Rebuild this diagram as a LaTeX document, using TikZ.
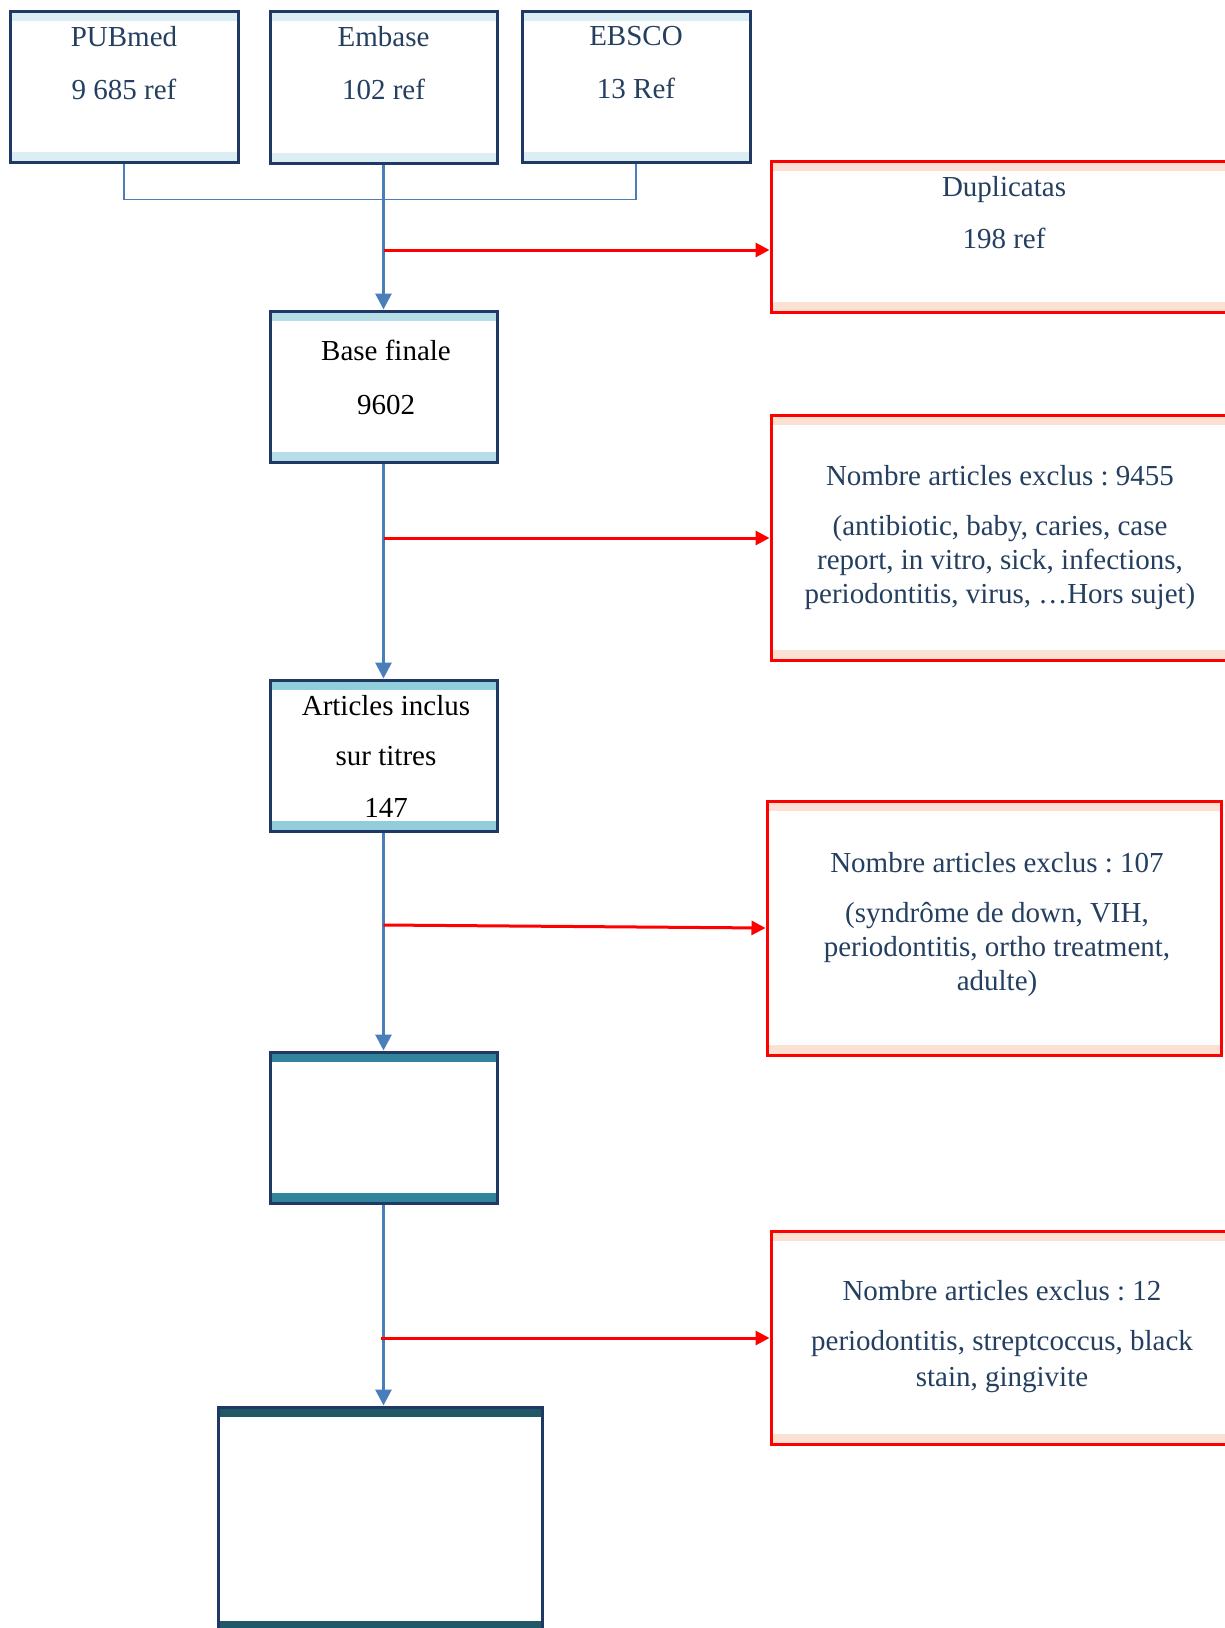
\documentclass[tikz,border=0pt]{standalone}
\usepackage{fontspec}
\setmainfont{Liberation Serif}
\usetikzlibrary{arrows.meta}
\definecolor{navy}{HTML}{1F3864}
\definecolor{navytext}{HTML}{243F60}
\definecolor{bandA}{HTML}{DAEEF3}
\definecolor{bandB}{HTML}{B7DDE8}
\definecolor{bandC}{HTML}{92CDDC}
\definecolor{bandD}{HTML}{31849B}
\definecolor{bandE}{HTML}{215868}
\definecolor{bandR}{HTML}{FBE0D4}
\definecolor{linkblue}{HTML}{4A7EBB}
\tikzset{
  bands/.style={path picture={
    \fill[#1] (path picture bounding box.north west) rectangle ([yshift=-10pt]path picture bounding box.north east);
    \fill[#1] (path picture bounding box.south west) rectangle ([yshift=10pt]path picture bounding box.south east);}},
  bluebox/.style={draw=navy, line width=3pt, rectangle, inner sep=0pt, fill=white},
  redbox/.style={draw=red, line width=3pt, rectangle, inner sep=0pt, fill=white, bands=bandR},
  txt/.style={inner sep=0pt, align=center, font=\fontsize{29}{34}\selectfont},
  bluearrow/.style={draw=linkblue, line width=3pt, -{Triangle[width=16pt,length=16pt]}},
  redarrow/.style={draw=red, line width=3pt, -{Triangle[width=14pt,length=14pt]}},
  thinblue/.style={draw=linkblue, line width=1.8pt},
}
\frenchspacing
\begin{document}
\begin{tikzpicture}[x=1pt,y=-1pt]
\useasboundingbox (0,0) rectangle (1224,1628);
% source boxes
\node[bluebox, bands=bandA, minimum width=228pt, minimum height=151pt] (pub) at (124,86.5) {};
\node[bluebox, bands=bandA, minimum width=227pt, minimum height=152pt] (emb) at (383.5,87) {};
\node[bluebox, bands=bandA, minimum width=228pt, minimum height=151pt] (ebs) at (636,86.5) {};
\node[txt, text=navytext] (pubT) at (124,63) {PUBmed\\[19pt]9 685 ref};
\node[txt, text=navytext] (embT) at (383.5,63) {Embase\\[19pt]102 ref};
\node[txt, text=navytext] (ebsT) at (636,63) {EBSCO\\[19pt]13 Ref};
% main column
\node[bluebox, bands=bandB, minimum width=227pt, minimum height=151pt] (base) at (383.5,386.5) {};
\node[txt, text=black] (baseT) at (386,377) {Base finale\\[20pt]9602};
\node[bluebox, bands=bandC, minimum width=227pt, minimum height=151pt] (art) at (383.5,755.5) {};
\node[txt, text=black] (artT) at (386,756) {Articles inclus\\[16pt]sur titres\\[18pt]147};
\node[bluebox, bands=bandD, minimum width=227pt, minimum height=151pt] (emp) at (383.5,1127.5) {};
\node[bluebox, bands=bandE, minimum width=324pt, minimum height=224pt] (fin) at (380,1519) {};
% red boxes
\node[redbox, minimum width=459pt, minimum height=151pt] (dup) at (1000.5,236.5) {};
\node[txt, text=navytext] (dupT) at (1004,213) {Duplicatas\\[18pt]198 ref};
\node[redbox, minimum width=459pt, minimum height=245pt] (ex1) at (1000.5,537.5) {};
\node[txt, text=navytext] (ex1T) at (1000,537.5) {Nombre articles exclus : 9455\\[16pt](antibiotic, baby, caries, case\\report, in vitro, sick, infections,\\periodontitis, virus, \dots Hors sujet)};
\node[redbox, minimum width=454pt, minimum height=254pt] (ex2) at (994,928) {};
\node[txt, text=navytext] (ex2T) at (997,925) {Nombre articles exclus : 107\\[16pt](syndrôme de down, VIH,\\periodontitis, ortho treatment,\\adulte)};
\node[redbox, minimum width=459pt, minimum height=213pt] (ex3) at (1000.5,1337.5) {};
\node[txt, text=navytext] (ex3T) at (1002,1337) {Nombre articles exclus : 12\\[16pt]periodontitis, streptcoccus, black\\[2pt]stain, gingivite};
% connectors
\draw[thinblue] (pub.south) -- ++(0,36) -| (ebs.south);
\draw[bluearrow] (emb.south) -- (base.north);
\draw[bluearrow] (base.south) -- (art.north);
\draw[bluearrow] (art.south) -- (emp.north);
\draw[bluearrow] (emp.south) -- (emp.south |- fin.north);
\coordinate (r1) at (383.5,250);
\coordinate (r2) at (383.5,538);
\coordinate (r3) at (383.5,925);
\coordinate (r4) at (381,1338);
\draw[redarrow] (r1) -- (r1 -| dup.west);
\draw[redarrow] (r2) -- (r2 -| ex1.west);
\draw[redarrow] (r3) -- (ex2.west);
\draw[redarrow] (r4) -- (r4 -| ex3.west);
\end{tikzpicture}
\end{document}
